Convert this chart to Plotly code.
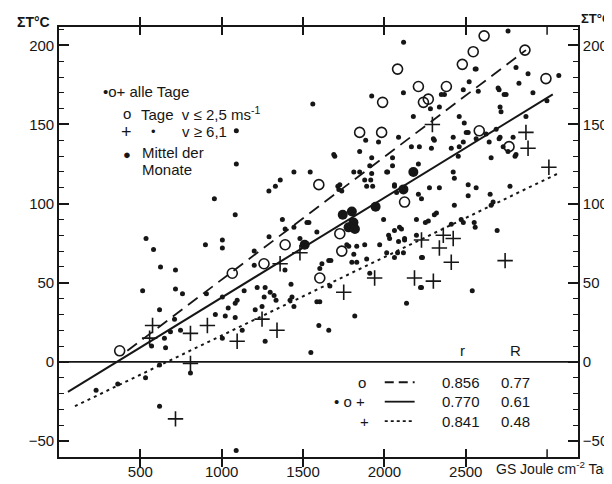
import plotly.graph_objects as go

# ---------------- data ----------------
# small dots: all days
dot_x = [1560,1090,1090,955,1083,1290,1330,1360,1444,1544,1373,1390,1536,1585,535,1004,
         2760,2118,1922,2117,2558,2809,2883,3072,2178,2283,2338,2369,2460,2491,2577,2705,
         2748,2711,2827,2913,2999,2870,2687,2791,2711,2760,2803,2656,2625,2564,2515,2423,
         2411,2460,2454,2301,2289,2215,2166,2087,1964,1885,2050,1922,1848,1695,1812,1848,
         1910,1922,2020,2050,1879,1916,1891,1928,1714,1738,2062,2075,2209,2228,2277,2338,
         2423,2430,2515,2564,2515,2650,2430,2656,2772,1995,2197,2252,2320,2472,2411,2552,
         2693,2062,2105,2026,1524,1781,1830,1879,1971,2032,2087,2124,2062,2117,2228,1812,
         1830,1891,1800,1910,1658,1616,1603,1585,1597,1658,1548,1818,2136,2228,2540,1665,
         581,624,716,514,716,759,618,900,1004,1200,1200,1291,1389,1426,906,1138,
         1218,1267,1298,1322,1334,1261,1432,1420,1444,1004,1040,961,1022,1083,1095,1083,
         1126,1004,1267,1206,1248,747,685,648,655,569,618,532,808,361,228,618,
         1089,710,1603,2270,2307,2093,2124,2197,1769,2081,2014,1671,2234,2222,2485,2558,
         2668,2564,2521,2485,2699,2736,2717,2503,2705,2644,2485,2730,2809,1444,1481,1689,
         2350,2307,2209,2062,1720,1726,2014]
dot_y = [163,146,125,103,93,108,111,115,120,120,90,84,88,82,78,77,
         209,202,168,170,185,186,182,181,155,160,161,169,155,151,171,172,
         169,161,176,170,165,155,147,142,142,133,130,129,144,141,145,142,
         135,136,130,141,135,136,136,142,139,140,129,129,133,130,120,120,
         124,119,120,124,115,115,111,111,111,108,111,107,106,103,110,110,
         120,116,112,110,105,106,99,99,111,90,90,88,94,90,87,88,
         83,83,84,80,88,73,73,74,74,78,76,78,66,69,66,68,
         63,65,63,56,64,62,59,38,23,20,6,29,37,47,45,48,
         71,60,58,45,46,43,33,74,72,70,61,79,58,49,43,45,
         47,47,44,42,39,41,41,39,35,41,34,30,29,37,39,28,
         20,15,13,33,35,20,19,15,9,10,-2,-10,-7,-14,-18,-28,
         -56,27,38,89,93,85,77,80,74,69,69,64,66,47,88,85,
         101,185,177,172,173,169,158,145,141,139,139,136,131,85,78,131,
         169,140,125,112,109,112,120]

# open circles: days with v <= 2.5 m/s
circ_x = [373,1065,1260,1390,1603,1726,1597,2124,1848,1983,1989,2081,2209,2240,2270,
          2381,2479,2546,2613,2583,2766,2864,2993,1738]
circ_y = [7,56,62,74,53,81,112,101,145,145,164,185,174,164,166,
          174,188,196,206,146,136,197,179,70]

# plus signs: days with v >= 6.1
plus_x = [575,557,808,808,912,1095,1248,1340,716,1359,1481,1750,1940,2185,2301,2338,
          2411,2423,2362,2228,2742,2295,2870,2883,3011]
plus_y = [23,15,18,-1,23,13,27,20,-36,62,69,44,53,53,51,72,
          63,78,80,77,64,150,145,135,123]

# monthly means
mean_x = [1510,1744,1800,1780,1810,1819,1946,2117,2178]
mean_y = [74,93,95,85,88,84,98,109,120]

# regression lines (end points)
dash_x = [420, 2870]
dash_y = [7, 197]
solid_x = [55, 3035]
solid_y = [-19, 169]
dot_line_x = [98, 3066]
dot_line_y = [-28, 119]

x_ticks = [500, 1000, 1500, 2000, 2500]
x_ticktext = ["500", "1000", "1500", "2000", "2500"]
x_extra_tick = 3000
y_ticks = [-50, 0, 50, 100, 150, 200]

r_values = ["0.856", "0.770", "0.841"]
R_values = ["0.77", "0.61", "0.48"]
row_symbols = ["o", "• o +", "+"]

XR = [0, 3190]
YR = [-60.1, 211.6]

FONT = "Liberation Sans Narrow, Liberation Sans, Arial, sans-serif"
INK = "#161616"

fig = go.Figure()

fig.add_trace(go.Scatter(x=dash_x, y=dash_y, mode="lines",
                         line=dict(color=INK, width=1.8, dash="12px,7px"), hoverinfo="skip"))
fig.add_trace(go.Scatter(x=solid_x, y=solid_y, mode="lines",
                         line=dict(color=INK, width=2), hoverinfo="skip"))
fig.add_trace(go.Scatter(x=dot_line_x, y=dot_line_y, mode="lines",
                         line=dict(color=INK, width=2, dash="3px,4px"), hoverinfo="skip"))

fig.add_trace(go.Scatter(x=dot_x, y=dot_y, mode="markers",
                         marker=dict(symbol="circle", size=5, color=INK)))
fig.add_trace(go.Scatter(x=circ_x, y=circ_y, mode="markers",
                         marker=dict(symbol="circle-open", size=10, color=INK,
                                     line=dict(width=1.6, color=INK))))
fig.add_trace(go.Scatter(x=plus_x, y=plus_y, mode="markers",
                         marker=dict(symbol="cross-thin-open", size=11, color=INK,
                                     line=dict(width=1.6, color=INK))))
fig.add_trace(go.Scatter(x=mean_x, y=mean_y, mode="markers",
                         marker=dict(symbol="circle", size=10, color=INK)))
# zero line
fig.add_trace(go.Scatter(x=XR, y=[0, 0], mode="lines",
                         line=dict(color=INK, width=1.6), hoverinfo="skip"))
# invisible trace for right axis
fig.add_trace(go.Scatter(x=[XR[0]], y=[0], yaxis="y2", mode="markers",
                         marker=dict(opacity=0), hoverinfo="skip"))

tickfont = dict(family=FONT, size=15, color=INK)
fig.update_layout(
    width=612, height=484,
    margin=dict(l=51, r=40, t=19, b=22),
    paper_bgcolor="white", plot_bgcolor="white",
    showlegend=False,
    xaxis=dict(range=XR, tickvals=x_ticks, ticktext=x_ticktext, ticks="inside",
               ticklen=8, tickwidth=1.5, tickcolor=INK, showline=True, linecolor=INK,
               linewidth=1.6, mirror="allticks", showgrid=False, zeroline=False,
               tickfont=tickfont),
    yaxis=dict(range=YR, tickvals=y_ticks, ticks="inside", ticklen=10, tickwidth=1.5,
               tickcolor=INK, showline=True, linecolor=INK, linewidth=1.6,
               showgrid=False, zeroline=False, tickfont=tickfont,
               minor=dict(dtick=10, ticks="inside", ticklen=5, tickcolor=INK, tickwidth=1)),
    yaxis2=dict(range=YR, tickvals=y_ticks, overlaying="y", side="right", ticks="inside",
                ticklen=10, tickwidth=1.5, tickcolor=INK, showline=True, linecolor=INK,
                linewidth=1.6, showgrid=False, zeroline=False, tickfont=tickfont,
                minor=dict(dtick=10, ticks="inside", ticklen=5, tickcolor=INK, tickwidth=1)),
)

# unlabeled tick at 3000 (bottom and top)
for y0, y1 in [(0, 8 / 443.0), (1, 1 - 8 / 443.0)]:
    fig.add_shape(type="line", xref="x", yref="paper", x0=x_extra_tick, x1=x_extra_tick,
                  y0=y0, y1=y1, line=dict(color=INK, width=1.5))

def px(xp):
    return (xp - 51) / 521.0

def py(yp):
    return (462 - yp) / 443.0

def ann(text, xp, yp, size=14, xanchor="left"):
    fig.add_annotation(text=text, x=px(xp), y=py(yp), xref="paper", yref="paper",
                       xanchor=xanchor, yanchor="middle", showarrow=False,
                       font=dict(family=FONT, size=size, color=INK))

# axis titles
ann("<b>ΣT°C</b>", 25, 14, size=14, xanchor="center")
ann("<b>ΣT°C</b>", 608, 10, size=13, xanchor="right")
ann("GS Joule cm<sup>-2</sup> Tag", 488, 473, size=14)

# key at upper left
ann("•o+ alle Tage", 93, 85, size=15)
ann("o", 113, 108, size=15)
ann("Tage  v ≤ 2,5 ms<sup>-1</sup>", 131, 108, size=15)
ann("+", 111, 127, size=18)
ann("•", 141, 127, size=13)
ann("v ≥ 6,1", 172, 127, size=15)
ann("●", 113, 150, size=13)
ann("Mittel der", 132, 148, size=15)
ann("Monate", 132, 166, size=15)

# table at lower right
ann("r", 456, 352, size=15, xanchor="center")
ann("R", 509, 352, size=15, xanchor="center")
row_y = [385, 405, 425]
row_sym_x = [355, 343, 358]
row_dash = ["9px,5px", "solid", "3px,3px"]
for i in range(3):
    ann(row_symbols[i], row_sym_x[i], row_y[i], size=15, xanchor="center")
    ann(r_values[i], 455, row_y[i], size=15, xanchor="center")
    ann(R_values[i], 509, row_y[i], size=15, xanchor="center")
    fig.add_shape(type="line", xref="paper", yref="paper",
                  x0=px(378), x1=px(408), y0=py(row_y[i]), y1=py(row_y[i]),
                  line=dict(color=INK, width=1.8, dash=row_dash[i]))

fig.write_html("out.html")
